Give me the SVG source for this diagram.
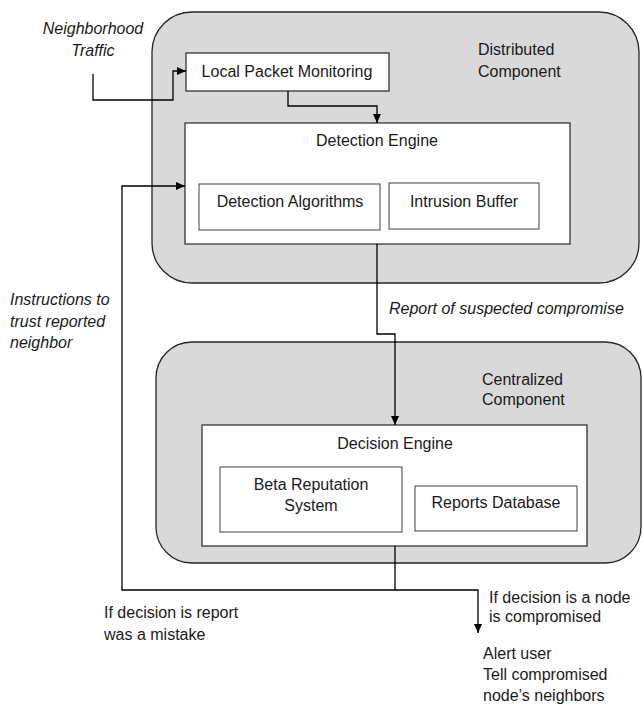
<svg xmlns="http://www.w3.org/2000/svg" width="642" height="706" viewBox="0 0 642 706">
<style>
.comp{fill:#d9d9d9;stroke:#262626;stroke-width:1.3}
.box{fill:#ffffff;stroke:#262626;stroke-width:1.2}
.sub{fill:#ffffff;stroke:#404040;stroke-width:1}
text{font-family:"Liberation Sans",Arial,sans-serif;font-size:16px;fill:#1a1a1a}
.it{font-style:italic}
.c{text-anchor:middle}
.wire{fill:none;stroke:#000000;stroke-width:1.3}
</style>
<defs>
<marker id="ah" markerUnits="userSpaceOnUse" markerWidth="9" markerHeight="8" refX="9" refY="4" orient="auto">
<path d="M0,0 L9,4 L0,8 z" fill="#000000"/>
</marker>
</defs>
<g id="distributed">
<rect class="comp" x="152" y="12" width="487" height="271" rx="40" ry="40"/>
<text x="478" y="55">Distributed</text>
<text x="478" y="77">Component</text>
</g>
<g id="centralized">
<rect class="comp" x="156" y="342" width="485" height="221" rx="36" ry="36"/>
<text x="482" y="385">Centralized</text>
<text x="482" y="405">Component</text>
</g>
<g id="local-packet-monitoring">
<rect class="box" x="186" y="53" width="203" height="38"/>
<text class="c" x="287" y="77">Local Packet Monitoring</text>
</g>
<g id="detection-engine">
<rect class="box" x="185" y="123" width="385" height="121"/>
<text class="c" x="377" y="146">Detection Engine</text>
</g>
<g id="detection-algorithms">
<rect class="sub" x="199" y="184" width="181" height="46"/>
<text class="c" x="290" y="207">Detection Algorithms</text>
</g>
<g id="intrusion-buffer">
<rect class="sub" x="389" y="183" width="150" height="46"/>
<text class="c" x="464" y="207">Intrusion Buffer</text>
</g>
<g id="decision-engine">
<rect class="box" x="202" y="425" width="385" height="121"/>
<text class="c" x="395" y="449">Decision Engine</text>
</g>
<g id="beta-reputation">
<rect class="sub" x="220" y="467" width="182" height="65"/>
<text class="c" x="311" y="490">Beta Reputation</text>
<text class="c" x="311" y="511">System</text>
</g>
<g id="reports-database">
<rect class="sub" x="415" y="486" width="162" height="45"/>
<text class="c" x="496" y="508">Reports Database</text>
</g>
<g id="connectors">
<path class="wire" d="M93 74 V100 H173 V71 H186" marker-end="url(#ah)"/>
<path class="wire" d="M288 91 V106 H377 V123" marker-end="url(#ah)"/>
<path class="wire" d="M377 244 V334 H395 V425" marker-end="url(#ah)"/>
<path class="wire" d="M395 546 V590 H478 V633" marker-end="url(#ah)"/>
<path class="wire" d="M395 590 H122 V186 H185" marker-end="url(#ah)"/>
</g>
<g id="labels">
<text class="it c" x="93" y="34">Neighborhood</text>
<text class="it c" x="93" y="56">Traffic</text>
<text class="it" x="10" y="305">Instructions to</text>
<text class="it" x="10" y="327">trust reported</text>
<text class="it" x="10" y="348">neighbor</text>
<text class="it" x="389" y="314">Report of suspected compromise</text>
<text x="104" y="618">If decision is report</text>
<text x="104" y="640">was a mistake</text>
<text x="489" y="603">If decision is a node</text>
<text x="489" y="622">is compromised</text>
<text x="483" y="659">Alert user</text>
<text x="483" y="680">Tell compromised</text>
<text x="483" y="701">node’s neighbors</text>
</g>
</svg>
